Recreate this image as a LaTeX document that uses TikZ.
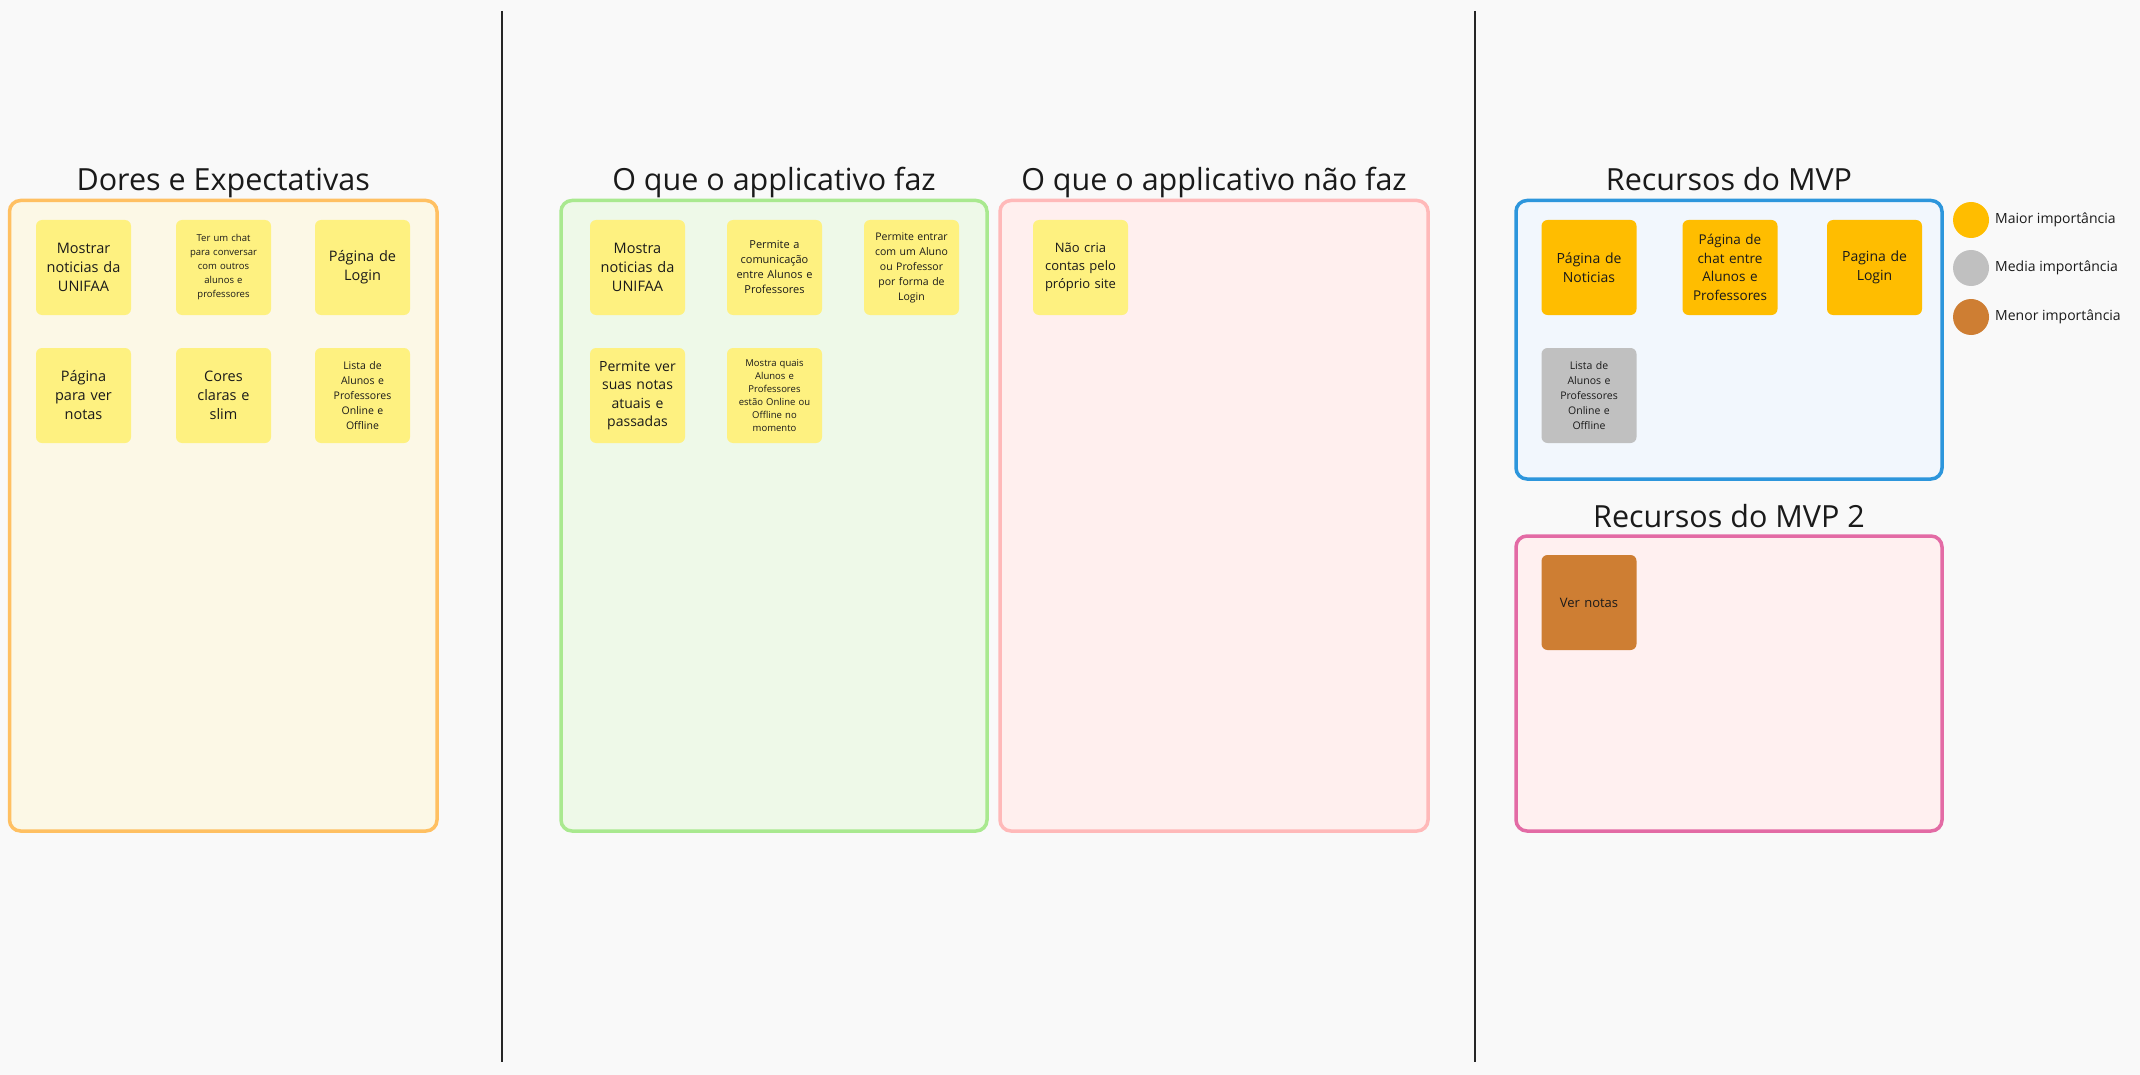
\documentclass[tikz,border=0pt]{standalone}
\usepackage{fontspec}
\setmainfont{Open Sans}
\definecolor{bgc}{HTML}{F9F9F9}
\definecolor{txt}{HTML}{1A1A1A}
\definecolor{doresF}{HTML}{FCF8E6}
\definecolor{doresD}{HTML}{FFC062}
\definecolor{fazF}{HTML}{EEF9E8}
\definecolor{fazD}{HTML}{A9E98F}
\definecolor{naoF}{HTML}{FFEFEE}
\definecolor{naoD}{HTML}{FFB9B9}
\definecolor{mvpF}{HTML}{F2F7FD}
\definecolor{mvpD}{HTML}{2D96DC}
\definecolor{mvpbF}{HTML}{FFF0F0}
\definecolor{mvpbD}{HTML}{E36BA5}
\definecolor{styel}{HTML}{FEF180}
\definecolor{storange}{HTML}{FFBD00}
\definecolor{stgray}{HTML}{C0C0C0}
\definecolor{stbrown}{HTML}{CE7E33}
\newcommand\myfs[2]{\fontsize{#1}{#2}\selectfont}
\begin{document}
\begin{tikzpicture}[x=1pt,y=-1pt,
  panel/.style={draw, line width=3.5pt, rounded corners=11pt, inner sep=0pt},
  sticky/.style={fill=styel, rounded corners=6pt, minimum width=95pt, minimum height=95pt,
    text width=92pt, align=center, inner sep=0pt, text=txt},
  ptitle/.style={anchor=base, font=\myfs{30.5}{36}, text=txt, inner sep=0pt},
  divider/.style={line width=2.5pt, draw=black!85},
  legdot/.style={circle, minimum size=36pt, inner sep=0pt},
  legtxt/.style={anchor=west, font=\myfs{14}{17}, text=txt, inner sep=0pt}]
\useasboundingbox (0,0) rectangle (2140,1075);
\fill[bgc] (0,0) rectangle (2140,1075);

% dividers
\coordinate (d1t) at (502,11);
\coordinate (d1b) at (502,1062);
\coordinate (d2t) at (1475,11);
\coordinate (d2b) at (1475,1062);
\draw[divider] (d1t) -- (d1b);
\draw[divider] (d2t) -- (d2b);

% panels
\node[panel, draw=doresD, fill=doresF, minimum width=427.5pt, minimum height=630.5pt] (dores) at (223.25,515.75) {};
\node[panel, draw=fazD, fill=fazF, minimum width=426pt, minimum height=630.5pt] (faz) at (774,515.75) {};
\node[panel, draw=naoD, fill=naoF, minimum width=428pt, minimum height=630.5pt] (nao) at (1214,515.75) {};
\node[panel, draw=mvpD, fill=mvpF, minimum width=426pt, minimum height=278.5pt] (mvp) at (1729,339.75) {};
\node[panel, draw=mvpbD, fill=mvpbF, minimum width=426pt, minimum height=295pt] (mvpb) at (1729,683.5) {};

% titles
\node[ptitle] (tdores) at (223.25,191) {Dores e Expectativas};
\node[ptitle] (tfaz) at (774,191) {O que o applicativo faz};
\node[ptitle] (tnao) at (1214,191) {O que o applicativo não faz};
\node[ptitle] (tmvp) at (1729,191) {Recursos do MVP};
\node[ptitle] (tmvpb) at (1729,527) {Recursos do MVP 2};

% Dores stickies
\node[sticky, font=\myfs{14.5}{19}] (d1) at (83.5,267.5) {Mostrar\\noticias da\\UNIFAA};
\node[sticky, font=\myfs{9.5}{14}] (d2) at (223.5,267.5) {Ter um chat\\para conversar\\com outros\\alunos e\\professores};
\node[sticky, font=\myfs{14.5}{19}] (d3) at (362.5,267.5) {Página de\\Login};
\node[sticky, font=\myfs{14.5}{19}] (d4) at (83.5,395.5) {Página\\para ver\\notas};
\node[sticky, font=\myfs{14.5}{19}] (d5) at (223.5,395.5) {Cores\\claras e\\slim};
\node[sticky, font=\myfs{10.5}{15}] (d6) at (362.5,395.5) {Lista de\\Alunos e\\Professores\\Online e\\Offline};

% Faz stickies
\node[sticky, font=\myfs{14.5}{19}] (f1) at (637.5,267.5) {Mostra\\noticias da\\UNIFAA};
\node[sticky, font=\myfs{11}{15}] (f2) at (774.5,267.5) {Permite a\\comunicação\\entre Alunos e\\Professores};
\node[sticky, font=\myfs{10.5}{15}] (f3) at (911.5,267.5) {Permite entrar\\com um Aluno\\ou Professor\\por forma de\\Login};
\node[sticky, font=\myfs{14}{18.5}] (f4) at (637.5,395.5) {Permite ver\\suas notas\\atuais e\\passadas};
\node[sticky, font=\myfs{9.5}{13}] (f5) at (774.5,395.5) {Mostra quais\\Alunos e\\Professores\\estão Online ou\\Offline no\\momento};

% Nao faz stickies
\node[sticky, font=\myfs{13}{18}] (n1) at (1080.5,267.5) {Não cria\\contas pelo\\próprio site};

% MVP stickies
\node[sticky, fill=storange, font=\myfs{14}{19}] (m1) at (1589,267.5) {Página de\\Noticias};
\node[sticky, fill=storange, font=\myfs{13.5}{18.5}] (m2) at (1730,267.5) {Página de\\chat entre\\Alunos e\\Professores};
\node[sticky, fill=storange, font=\myfs{14}{19}] (m3) at (1874.5,267.5) {Pagina de\\Login};
\node[sticky, fill=stgray, font=\myfs{10.5}{15}] (m4) at (1589,395.5) {Lista de\\Alunos e\\Professores\\Online e\\Offline};

% MVP 2 stickies
\node[sticky, fill=stbrown, font=\myfs{13}{18}] (b1) at (1589,602.5) {Ver notas};

% legend
\node[legdot, fill=storange] (l1) at (1971,220) {};
\node[legdot, fill=stgray] (l2) at (1971,268) {};
\node[legdot, fill=stbrown] (l3) at (1971,317) {};
\node[legtxt] (lt1) at (1995,220) {Maior importância};
\node[legtxt] (lt2) at (1995,268) {Media importância};
\node[legtxt] (lt3) at (1995,317) {Menor importância};
\end{tikzpicture}
\end{document}
